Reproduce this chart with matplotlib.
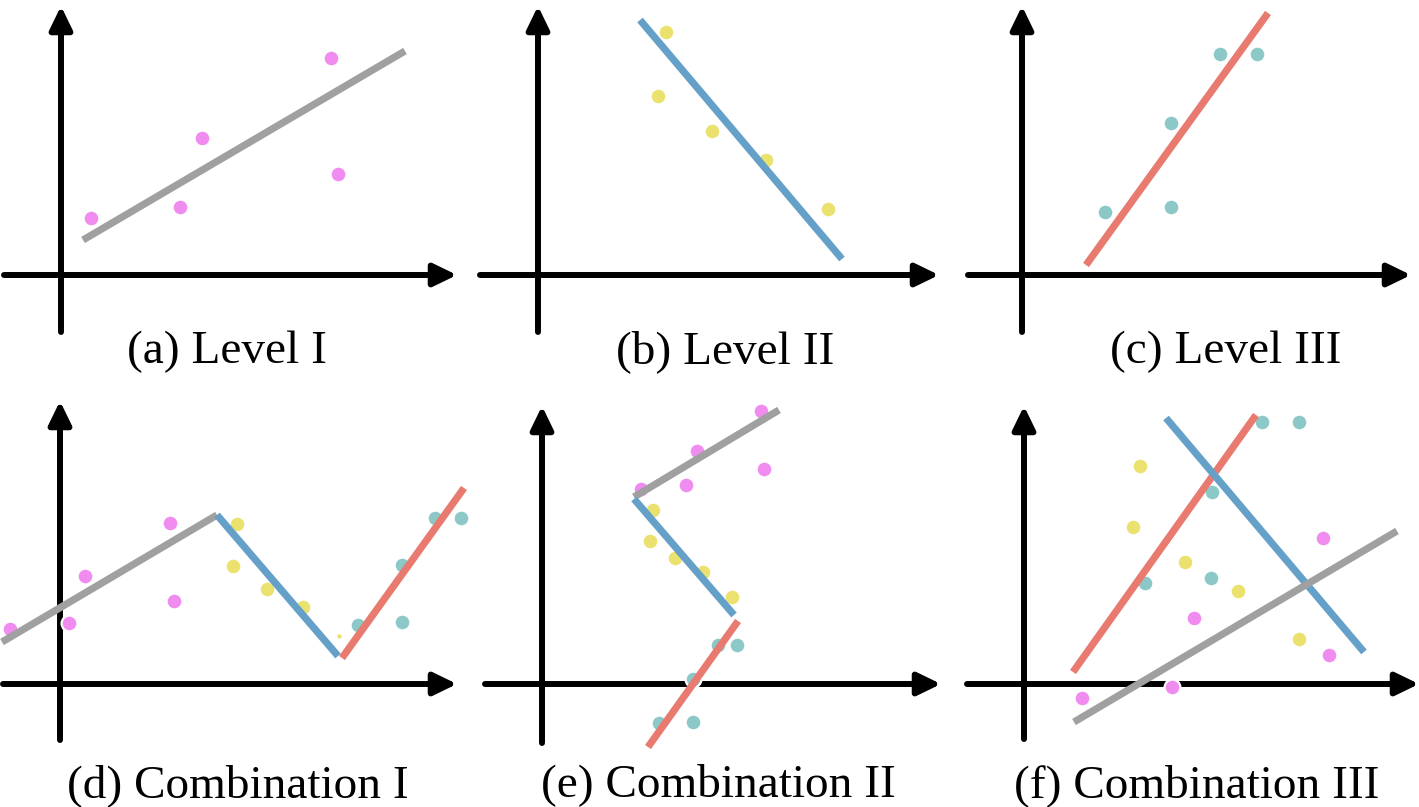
import numpy as np
import matplotlib.pyplot as plt

# colours of the three groups and their fitted lines
PINK = '#f08cf0'
YELLOW = '#ebe16e'
TEAL = '#8cc8c8'
GREY = '#a0a0a0'
BLUE = '#64a0c8'
RED = '#e87a70'

labels = ['(a) Level I', '(b) Level II', '(c) Level III',
          '(d) Combination I', '(e) Combination II', '(f) Combination III']
label_x = [227, 725, 1226, 238, 718, 1197]
label_y = [363, 363, 363, 797, 796, 797]

# axis arrows: origin, x-extent, y-extent (pixel units of the sheet)
origin_x = [61, 538, 1022, 60, 542, 1024]
origin_y = [275, 275, 275, 684, 684, 684]
xaxis_from = [4, 480, 968, 3, 485, 967]
xaxis_to = [457, 939, 1411, 457, 941, 1419]
yaxis_bottom = [332, 332, 332, 740, 743, 739]
yaxis_top = [6, 6, 6, 401, 406, 406]

# scatter groups: (panel, colour, x, y)
points = [
    (0, PINK, [91, 180, 202, 331, 338], [218, 207, 138, 58, 174]),
    (1, YELLOW, [666, 658, 712, 766, 828], [32, 96, 131, 160, 209]),
    (2, TEAL, [1105, 1171, 1171, 1220, 1257], [212, 207, 123, 54, 54]),
    (3, PINK, [10, 69, 85, 170, 174], [629, 623, 576, 523, 601]),
    (3, YELLOW, [237, 233, 267, 303], [524, 566, 589, 607]),
    (3, TEAL, [358, 402, 402, 435, 461], [625, 565, 622, 518, 518]),
    (4, PINK, [641, 686, 697, 761, 764], [489, 485, 451, 411, 469]),
    (4, YELLOW, [653, 650, 675, 703, 732], [510, 541, 558, 572, 597]),
    (4, TEAL, [718, 737, 693, 659, 693], [645, 645, 679, 723, 722]),
    (5, PINK, [1323, 1194, 1329, 1172, 1082], [538, 618, 655, 687, 698]),
    (5, YELLOW, [1140, 1133, 1185, 1238, 1299], [466, 527, 562, 591, 639]),
    (5, TEAL, [1262, 1299, 1212, 1145, 1211], [422, 422, 492, 583, 578]),
]
tiny_x = [339]
tiny_y = [636]

# fitted segments: (colour, x, y)
segments = [
    (GREY, [83, 405], [240, 51]),
    (BLUE, [640, 842], [20, 259]),
    (RED, [1086, 1268], [265, 13]),
    (GREY, [2, 217], [642, 515]),
    (BLUE, [217, 338], [515, 656]),
    (RED, [342, 464], [658, 488]),
    (GREY, [634, 779], [497, 410]),
    (BLUE, [634, 734], [499, 615]),
    (RED, [738, 648], [621, 747]),
    (RED, [1073, 1256], [672, 415]),
    (BLUE, [1166, 1364], [418, 652]),
    (GREY, [1074, 1397], [722, 531]),
]

fig = plt.figure(figsize=(14.19, 8.07), dpi=100)
ax = fig.add_axes([0, 0, 1, 1])
ax.set_xlim(0, 1419)
ax.set_ylim(807, 0)
ax.axis('off')

arrow = dict(arrowstyle='-|>,head_length=1.4,head_width=0.68', color='black',
             lw=4.3, shrinkA=0, shrinkB=0, mutation_scale=10)

for i in range(6):
    ax.annotate('', xy=(xaxis_to[i], origin_y[i]), xytext=(xaxis_from[i], origin_y[i]),
                arrowprops=arrow, zorder=1)
    ax.annotate('', xy=(origin_x[i], yaxis_top[i]), xytext=(origin_x[i], yaxis_bottom[i]),
                arrowprops=arrow, zorder=1)
    ax.text(label_x[i], label_y[i], labels[i], ha='center', va='baseline',
            fontsize=34, family='Liberation Serif')

for panel, col, xs, ys in points:
    ax.scatter(xs, ys, s=130, c=col, edgecolors='white', linewidths=1.6, zorder=2)
ax.scatter(tiny_x, tiny_y, s=10, c=YELLOW, linewidths=0, zorder=2)

for col, xs, ys in segments:
    ax.plot(xs, ys, color=col, lw=5.2, solid_capstyle='butt', zorder=3)

fig.savefig('out.png', dpi=100, facecolor='white')
